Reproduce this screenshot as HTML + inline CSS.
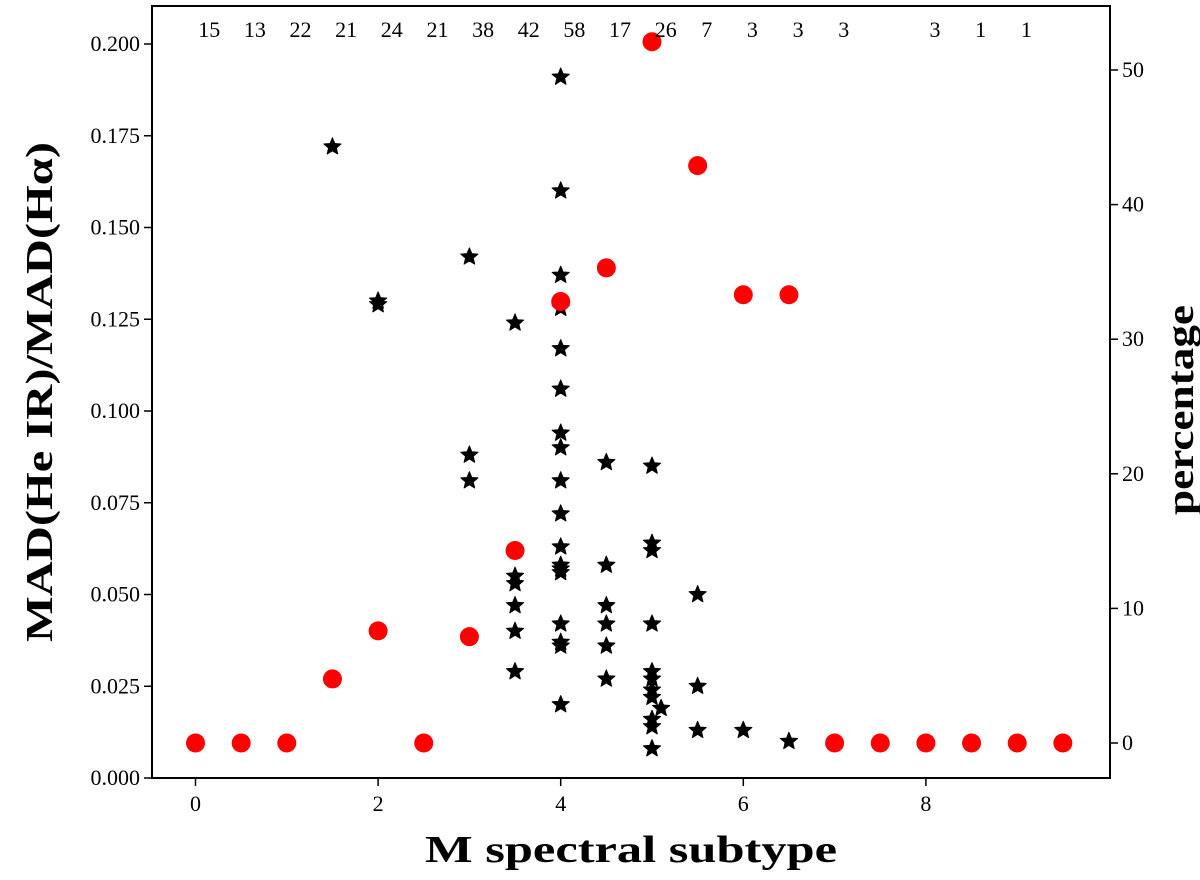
<!DOCTYPE html>
<html><head><meta charset="utf-8"><style>
body{margin:0;background:#fff;}
svg text{font-family:"Liberation Serif","DejaVu Serif",serif;}
</style></head><body>
<svg id="chart" width="1200" height="875" xmlns="http://www.w3.org/2000/svg"></svg>
<script>
const starX = [1.5,2,2,3,3,3,3.5,3.5,3.5,3.5,3.5,3.5,
 4,4,4,4,4,4,4,4,4,4,4,4,4,4,4,4,4,4,
 4.5,4.5,4.5,4.5,4.5,4.5,
 5,5,5,5,5,5,5,5,5,5,5,5.1,5.5,5.5,5.5,6,6.5];
const starY = [0.172,0.129,0.130,0.142,0.088,0.081,0.124,0.055,0.053,0.047,0.040,0.029,
 0.191,0.160,0.137,0.128,0.117,0.106,0.094,0.090,0.081,0.072,0.063,0.058,0.057,0.056,0.042,0.037,0.036,0.020,
 0.086,0.058,0.047,0.042,0.036,0.027,
 0.085,0.064,0.062,0.042,0.029,0.027,0.024,0.022,0.016,0.014,0.008,0.019,0.050,0.025,0.013,0.013,0.010];
const pctX = [0,0.5,1,1.5,2,2.5,3,3.5,4,4.5,5,5.5,6,6.5,7,7.5,8,8.5,9,9.5];
const pctY = [0,0,0,4.76,8.33,0,7.9,14.3,32.8,35.3,52.1,42.9,33.3,33.3,0,0,0,0,0,0];
const countX = [0.15,0.65,1.15,1.65,2.15,2.65,3.15,3.65,4.15,4.65,5.15,5.6,6.1,6.6,7.1,8.1,8.6,9.1];
const countLabels = ["15","13","22","21","24","21","38","42","58","17","26","7","3","3","3","3","1","1"];
const xTicks = [0,2,4,6,8];
const yTicks = [0,0.025,0.05,0.075,0.1,0.125,0.15,0.175,0.2];
const yTickLabels = ["0.000","0.025","0.050","0.075","0.100","0.125","0.150","0.175","0.200"];
const rTicks = [0,10,20,30,40,50];

const L=152,R=1110,T=6,B=778;
const xs=v=>195.5+(v)*91.3;
const ys=v=>B-v*3670;
const rs=v=>743-v*13.46;
const svg=document.getElementById('chart');
const NS='http://www.w3.org/2000/svg';
function mk(tag,attrs,parent){const e=document.createElementNS(NS,tag);for(const k in attrs)e.setAttribute(k,attrs[k]);(parent||svg).appendChild(e);return e;}

const frame=mk('rect',{x:L,y:T,width:R-L,height:B-T,fill:'none',stroke:'#000','stroke-width':2});



xTicks.forEach(t=>{
 const l=mk('line',{x1:xs(t),x2:xs(t),y1:B,y2:B+8,stroke:'#000','stroke-width':1.5});
 
 
 const tx=mk('text',{x:xs(t),y:B+33,'font-size':22,'text-anchor':'middle'});tx.textContent=t;
 
 
});
yTicks.forEach((t,i)=>{
 const l=mk('line',{x1:L-8,x2:L,y1:ys(t),y2:ys(t),stroke:'#000','stroke-width':1.5});
 
 
 const tx=mk('text',{x:L-12,y:ys(t)+7,'font-size':22,'text-anchor':'end'});tx.textContent=yTickLabels[i];
 
 
});
rTicks.forEach(t=>{
 const l=mk('line',{x1:R,x2:R+8,y1:rs(t),y2:rs(t),stroke:'#000','stroke-width':1.5});
 
 
 const tx=mk('text',{x:R+12,y:rs(t)+7,'font-size':22,'text-anchor':'start'});tx.textContent=t;
 
 
});

function starPts(cx,cy,ro,ri){let p=[];for(let i=0;i<10;i++){const a=-Math.PI/2+i*Math.PI/5;const r=i%2?ri:ro;p.push((cx+r*Math.cos(a)).toFixed(1)+','+(cy+r*Math.sin(a)).toFixed(1));}return p.join(' ');}
starX.forEach((x,i)=>{
 const s=mk('polygon',{points:starPts(xs(x),ys(starY[i]),9,4),fill:'#000',stroke:'#000','stroke-width':1,'stroke-linejoin':'round'});
 
 
});
pctX.forEach((x,i)=>{
 const c=mk('circle',{cx:xs(x),cy:rs(pctY[i]),r:9.5,fill:'#ff0000'});
 
 
});
countX.forEach((x,i)=>{
 const tx=mk('text',{x:xs(x),y:37,'font-size':22,'text-anchor':'middle'});tx.textContent=countLabels[i];
 
 
});

const xl=mk('text',{x:631,y:862,'font-size':38,'font-weight':'bold','text-anchor':'middle',textLength:412,lengthAdjust:'spacingAndGlyphs'});xl.textContent='M spectral subtype';


const yl=mk('text',{x:0,y:0,'font-size':38,'font-weight':'bold','text-anchor':'middle',textLength:500,lengthAdjust:'spacingAndGlyphs',transform:'translate(52,392) rotate(-90)'});yl.textContent='MAD(He IR)/MAD(Hα)';


const rl=mk('text',{x:0,y:0,'font-size':38,'font-weight':'bold','text-anchor':'middle',textLength:210,lengthAdjust:'spacingAndGlyphs',transform:'translate(1193,410) rotate(-90)'});rl.textContent='percentage';


</script>
</body></html>
